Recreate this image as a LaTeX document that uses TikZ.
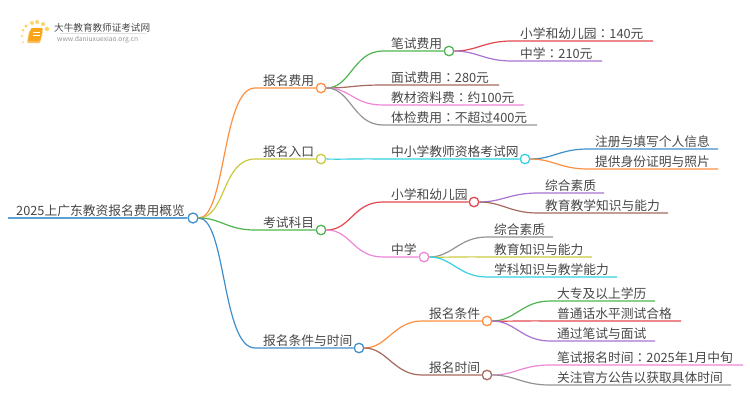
\documentclass[tikz,border=0pt]{standalone}
\usepackage{fontspec}
\usepackage{xcolor}
\setmainfont{Noto Sans CJK SC}
\newfontfamily\tcfont{Noto Sans CJK TC}
\usetikzlibrary{calc}
\definecolor{ink}{HTML}{474747}
\definecolor{cblue}{HTML}{3F8FCB}
\definecolor{corange}{HTML}{FF8F3F}
\definecolor{colive}{HTML}{C9C93F}
\definecolor{cgreen}{HTML}{4FB34F}
\definecolor{cbrown}{HTML}{A4695F}
\definecolor{cpink}{HTML}{EE86D6}
\definecolor{cgray}{HTML}{939393}
\definecolor{ccyan}{HTML}{36D0E0}
\definecolor{cred}{HTML}{E2474D}
\definecolor{cpurple}{HTML}{A873D3}
\definecolor{logoy}{HTML}{FFD56B}
\definecolor{logoo}{HTML}{F8A51C}
\newcommand{\fw}{{\tcfont ：}}
\tikzset{
  lab/.style={anchor=base west, inner sep=0pt, yshift=-0.8pt, text=ink, font=\fontsize{12.75}{14}\selectfont},
  dot/.style={circle, draw=#1, fill=white, line width=1.3pt, minimum size=9.5pt, inner sep=0pt},
  lnk/.style={line width=1.2pt, draw=#1},
  spot/.style={circle, fill=logoy, inner sep=0pt, minimum size=#1}
}
\begin{document}
\begin{tikzpicture}[x=1pt,y=-1pt]
  \useasboundingbox (0,0) rectangle (750,410);

  % logo
  \node[spot=4.5pt] (s1) at (47,29) {}; \node[spot=4pt] (s2) at (43,24) {};
  \node[spot=4pt] (s3) at (37,22) {}; \node[spot=4pt] (s4) at (32,23) {};
  \node[spot=3.5pt] (s5) at (26,26) {}; \node[spot=3pt] (s6) at (23,30) {};
  \node[spot=2.5pt] (s7) at (22,36) {}; \node[spot=2pt] (s8) at (23,42) {};
  \fill[logoo!70!white, rounded corners=1pt] (29,31) -- (43,31) -- (40,43) -- (27,43) -- cycle;
  \fill[logoo, rounded corners=1pt] (31,28) -- (43,28) -- (40,41) -- (28,41) -- cycle;
  \draw[white, line width=0.5pt] (33,32) -- (40,32) (32.5,35) -- (39.5,35);
  \node[anchor=base west, inner sep=0pt, text=ink, font=\fontsize{9.6}{12}\selectfont] (logot) at (54,31) {大牛教育教师证考试网};
  \node[anchor=base west, inner sep=0pt, text=cgray, font=\fontsize{6.7}{7}\selectfont] (logou) at (57,41.5) {www.daniuxuexiao.org.cn};
  \draw[black!12, line width=0.5pt] (60,33.5) -- (146,33.5);

  % dots
  \node[dot=cblue, minimum size=10pt] (R) at (193,218) {};
  \node[dot=corange] (A) at (321,88) {};
  \node[dot=colive] (B) at (321,159) {};
  \node[dot=cgreen] (C) at (321,230) {};
  \node[dot=cblue] (D) at (359,348) {};
  \node[dot=cgreen] (A1) at (449,51) {};
  \node[dot=ccyan] (B1) at (525,159) {};
  \node[dot=cred] (C1) at (474,202) {};
  \node[dot=cpink] (C2) at (424,257) {};
  \node[dot=corange] (D1) at (487,321) {};
  \node[dot=cbrown] (D2) at (487,375) {};

  % labels
  \node[lab] (tR) at (16,214.5) {2025上广东教资报名费用概览};
  \node[lab] (tA) at (263,84.5) {报名费用};
  \node[lab] (tB) at (263,155.5) {报名入口};
  \node[lab] (tC) at (263,226.5) {考试科目};
  \node[lab] (tD) at (263,344.5) {报名条件与时间};
  \node[lab] (tA1) at (391,47.5) {笔试费用};
  \node[lab] (tA2) at (391,81.5) {面试费用\fw 280元};
  \node[lab] (tA3) at (391,101.5) {教材资料费\fw 约100元};
  \node[lab] (tA4) at (391,121.5) {体检费用\fw 不超过400元};
  \node[lab] (tA11) at (520,37.5) {小学和幼儿园\fw 140元};
  \node[lab] (tA12) at (520,57.5) {中学\fw 210元};
  \node[lab] (tB1) at (391,155.5) {中小学教师资格考试网};
  \node[lab] (tB11) at (595,145.5) {注册与填写个人信息};
  \node[lab] (tB12) at (595,165.5) {提供身份证明与照片};
  \node[lab] (tC1) at (391,198.5) {小学和幼儿园};
  \node[lab] (tC2) at (391,253.5) {中学};
  \node[lab] (tC11) at (545,189.5) {综合素质};
  \node[lab] (tC12) at (545,209.5) {教育教学知识与能力};
  \node[lab] (tC21) at (494,233.5) {综合素质};
  \node[lab] (tC22) at (494,253.5) {教育知识与能力};
  \node[lab] (tC23) at (494,273.5) {学科知识与教学能力};
  \node[lab] (tD1) at (429,317.5) {报名条件};
  \node[lab] (tD2) at (429,371.5) {报名时间};
  \node[lab] (tD11) at (557,297.5) {大专及以上学历};
  \node[lab] (tD12) at (557,317.5) {普通话水平测试合格};
  \node[lab] (tD13) at (557,337.5) {通过笔试与面试};
  \node[lab] (tD21) at (557,361.5) {笔试报名时间\fw 2025年1月中旬};
  \node[lab] (tD22) at (557,381.5) {关注官方公告以获取具体时间};

  % free ends of the branches
  \coordinate (eR) at (8,218);
  \coordinate (pA) at (255,88); \coordinate (pB) at (255,159);
  \coordinate (pC) at (255,230); \coordinate (pD) at (255,348);
  \coordinate (pA1) at (383,51); \coordinate (pA2) at (383,85);
  \coordinate (pA3) at (383,105); \coordinate (pA4) at (383,125);
  \coordinate (eA2) at (499,85); \coordinate (eA3) at (524,105); \coordinate (eA4) at (537,125);
  \coordinate (pA11) at (512,41); \coordinate (eA11) at (653,41);
  \coordinate (pA12) at (512,61); \coordinate (eA12) at (602,61);
  \coordinate (pB1) at (383,159);
  \coordinate (pB11) at (588,149); \coordinate (eB11) at (718,149);
  \coordinate (pB12) at (588,169); \coordinate (eB12) at (718,169);
  \coordinate (pC1) at (383,202); \coordinate (pC2) at (383,257);
  \coordinate (pC11) at (538,193); \coordinate (eC11) at (604,193);
  \coordinate (pC12) at (538,213); \coordinate (eC12) at (668,213);
  \coordinate (pC21) at (487,237); \coordinate (eC21) at (553,237);
  \coordinate (pC22) at (487,257); \coordinate (eC22) at (592,257);
  \coordinate (pC23) at (487,277); \coordinate (eC23) at (617,277);
  \coordinate (pD1) at (422,321); \coordinate (pD2) at (422,375);
  \coordinate (pD11) at (550,301); \coordinate (eD11) at (655,301);
  \coordinate (pD12) at (550,321); \coordinate (eD12) at (681,321);
  \coordinate (pD13) at (550,341); \coordinate (eD13) at (655,341);
  \coordinate (pD21) at (550,365); \coordinate (eD21) at (743,365);
  \coordinate (pD22) at (550,385); \coordinate (eD22) at (731,385);

  % first level
  \draw[lnk=cblue!85!white] (eR) -- (R);
  \draw[lnk=corange] (R) .. controls +(33,0) and +(-33,0) .. (pA) -- (A);
  \draw[lnk=colive] (R) .. controls +(33,0) and +(-33,0) .. (pB) -- (B);
  \draw[lnk=cgreen] (R) .. controls +(28,0) and +(-28,0) .. (pC) -- (C);
  \draw[lnk=cblue] (R) .. controls +(33,0) and +(-33,0) .. (pD) -- (D);

  % second level
  \draw[lnk=cgreen] (A) .. controls +(30,0) and +(-30,0) .. (pA1) -- (A1);
  \draw[lnk=cbrown] (A) .. controls +(30,0) and +(-30,0) .. (pA2) -- (eA2);
  \draw[lnk=cpink] (A) .. controls +(30,0) and +(-30,0) .. (pA3) -- (eA3);
  \draw[lnk=cgray] (A) .. controls +(30,0) and +(-30,0) .. (pA4) -- (eA4);
  \draw[lnk=ccyan] (B) .. controls +(30,0.4) and +(-30,-0.4) .. (pB1) -- (B1);
  \draw[lnk=cred] (C) .. controls +(30,0) and +(-30,0) .. (pC1) -- (C1);
  \draw[lnk=cpink] (C) .. controls +(30,0) and +(-30,0) .. (pC2) -- (C2);
  \draw[lnk=corange] (D) .. controls +(28,0) and +(-28,0) .. (pD1) -- (D1);
  \draw[lnk=cbrown] (D) .. controls +(28,0) and +(-28,0) .. (pD2) -- (D2);

  % third level
  \draw[lnk=cred] (A1) .. controls +(28,0) and +(-28,0) .. (pA11) -- (eA11);
  \draw[lnk=cpurple] (A1) .. controls +(28,0) and +(-28,0) .. (pA12) -- (eA12);
  \draw[lnk=cblue] (B1) .. controls +(28,0) and +(-28,0) .. (pB11) -- (eB11);
  \draw[lnk=corange] (B1) .. controls +(28,0) and +(-28,0) .. (pB12) -- (eB12);
  \draw[lnk=cpurple] (C1) .. controls +(28,0) and +(-28,0) .. (pC11) -- (eC11);
  \draw[lnk=cbrown] (C1) .. controls +(28,0) and +(-28,0) .. (pC12) -- (eC12);
  \draw[lnk=cgray] (C2) .. controls +(28,0) and +(-28,0) .. (pC21) -- (eC21);
  \draw[lnk=colive] (C2) .. controls +(28,0.4) and +(-28,-0.4) .. (pC22) -- (eC22);
  \draw[lnk=ccyan] (C2) .. controls +(28,0) and +(-28,0) .. (pC23) -- (eC23);
  \draw[lnk=cgreen] (D1) .. controls +(28,0) and +(-28,0) .. (pD11) -- (eD11);
  \draw[lnk=cred] (D1) .. controls +(28,0.4) and +(-28,-0.4) .. (pD12) -- (eD12);
  \draw[lnk=cpurple] (D1) .. controls +(28,0) and +(-28,0) .. (pD13) -- (eD13);
  \draw[lnk=cpink] (D2) .. controls +(28,0) and +(-28,0) .. (pD21) -- (eD21);
  \draw[lnk=cgray] (D2) .. controls +(28,0) and +(-28,0) .. (pD22) -- (eD22);
\end{tikzpicture}
\end{document}
